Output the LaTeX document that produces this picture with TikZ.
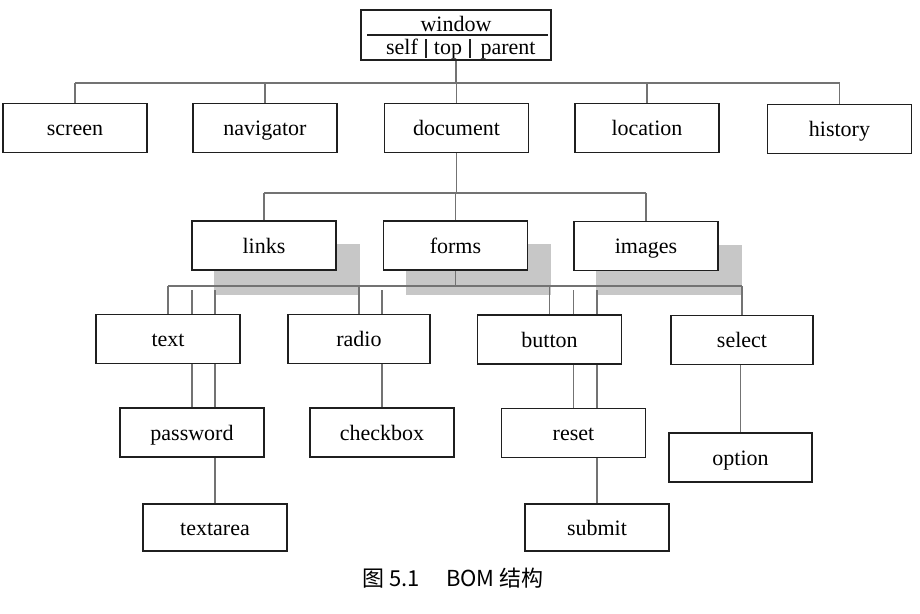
\documentclass[tikz,border=0pt]{standalone}
\usepackage{fontspec}
\setmainfont{Liberation Serif}
\newfontfamily\cjk{Noto Sans CJK SC}
\usetikzlibrary{backgrounds}
\begin{document}
\begin{tikzpicture}[x=1pt,y=-1pt,
  box/.style={draw=black!88, line width=1.8pt, fill=white, minimum width=144pt, minimum height=49pt,
    inner sep=0pt, font=\fontsize{22}{25}\selectfont, text height=15pt, text depth=0pt},
  conn/.style={draw=black!55, line width=1.3pt},
  shadowbox/.style={fill=black!22},
  wtext/.style={font=\fontsize{22}{25}\selectfont, inner sep=0pt, anchor=base}]
\useasboundingbox (0,0) rectangle (920,613);
% window
\node[draw=black!88, line width=1.8pt, fill=white, minimum width=190pt, minimum height=50pt, inner sep=0pt] (window) at (456,35) {};
\node[wtext] (wname) at (456,31) {window};
\node[wtext] (wself) at (402,54) {self};
\node[wtext] (wtop) at (448,54) {top};
\node[wtext] (wparent) at (508,54) {parent};
\draw[black!88, line width=1.4pt] (367,35) -- (548,35);
\draw[black!88, line width=1.1pt] (426,39) -- (426,58);
\draw[black!88, line width=1.1pt] (470,39) -- (470,58);
% row 1
\node[box] (screen) at (75,128) {screen};
\node[box] (navigator) at (265,128) {navigator};
\node[box] (document) at (456.5,128) {document};
\node[box] (location) at (647,128) {location};
\node[box] (history) at (839.5,129) {history};
% row 2
\node[box] (links) at (264,245.5) {links};
\node[box] (forms) at (455.5,245.5) {forms};
\node[box] (images) at (646,246) {images};
% row 3
\node[box] (text) at (168,339) {text};
\node[box, minimum width=142pt] (radio) at (359,339) {radio};
\node[box] (button) at (549.5,339.5) {button};
\node[box, minimum width=142pt] (select) at (742,340) {select};
% row 4
\node[box] (password) at (192,432.5) {password};
\node[box] (checkbox) at (382,432.5) {checkbox};
\node[box] (reset) at (573.5,433) {reset};
\node[box, minimum width=143pt] (option) at (740.5,457.5) {option};
% row 5
\node[box, minimum height=47pt] (textarea) at (215,527.5) {textarea};
\node[box, minimum height=47pt] (submit) at (597,527.5) {submit};
% caption
\node[font=\cjk\fontsize{22}{26}\selectfont, inner sep=0pt] (cap) at (453,578) {图 5.1\hspace{1.2em}BOM 结构};
\begin{scope}[on background layer]
  \fill[white] (0,0) rectangle (920,613);
  \foreach \n in {links,forms,images}
    \fill[shadowbox] ([shift={(23,24)}]\n.south west) rectangle ([shift={(23,24)}]\n.north east);
  \coordinate (b1) at (0,83);
  \coordinate (b2) at (0,193);
  \coordinate (b3) at (0,286);
  \coordinate (b3g) at (0,290);
  \draw[conn] (window.south) -- (window.south |- b1);
  \draw[conn] (screen.north |- b1) -- (history.north |- b1);
  \foreach \n in {screen,navigator,document,location,history}
    \draw[conn] (\n.north) -- (\n.north |- b1);
  \draw[conn] (document.south) -- (document.south |- b2);
  \draw[conn] (links.north |- b2) -- (images.north |- b2);
  \foreach \n in {links,forms,images}
    \draw[conn] (\n.north) -- (\n.north |- b2);
  \draw[conn] (forms.south) -- (forms.south |- b3);
  \draw[conn] (text.north |- b3) -- (select.north |- b3);
  \foreach \n in {text,radio,button,select}
    \draw[conn] (\n.north) -- (\n.north |- b3);
  \foreach \c/\p in {password/text,textarea/text,checkbox/radio,reset/button,submit/button}
    \draw[conn] (\c.north |- b3g) -- (\c.north |- \p.north);
  \foreach \c/\p in {password/text,textarea/text,checkbox/radio,reset/button,submit/button,option/select}
    \draw[conn] (\c.north) -- (\c.north |- \p.south);
\end{scope}
\end{tikzpicture}
\end{document}
